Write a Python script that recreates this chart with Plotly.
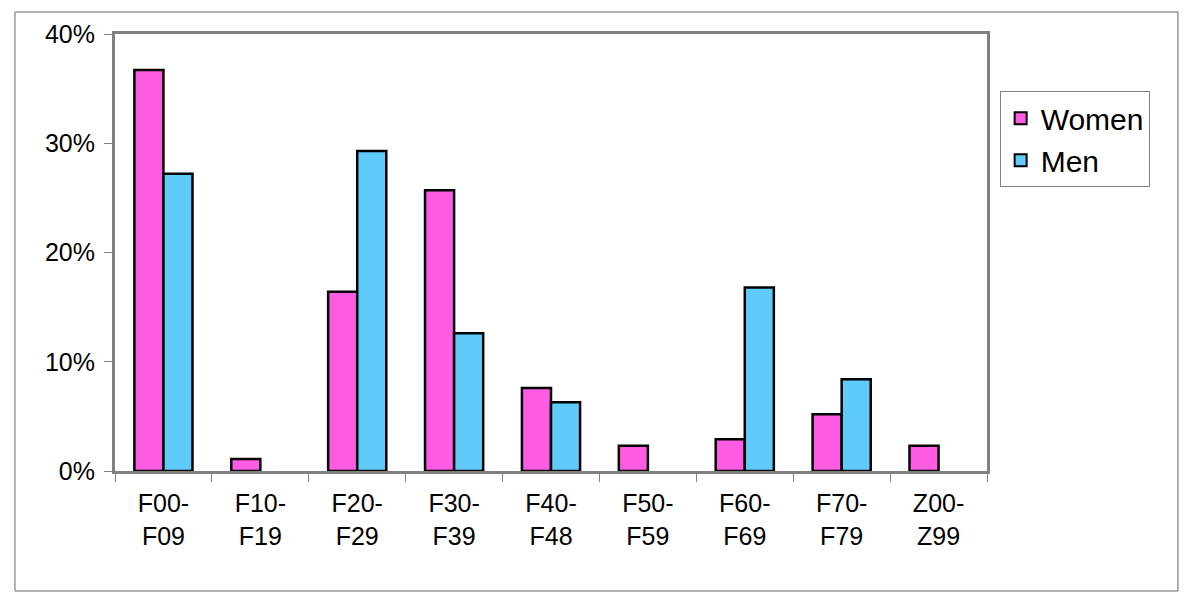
import plotly.graph_objects as go

categories = ["F00-<br>F09", "F10-<br>F19", "F20-<br>F29", "F30-<br>F39", "F40-<br>F48",
              "F50-<br>F59", "F60-<br>F69", "F70-<br>F79", "Z00-<br>Z99"]
women = [0.367, 0.011, 0.164, 0.257, 0.076, 0.023, 0.029, 0.052, 0.023]
men = [0.272, None, 0.293, 0.126, 0.063, None, 0.168, 0.084, None]
y_ticks = [0, 0.1, 0.2, 0.3, 0.4]
y_ticklabels = ["0%", "10%", "20%", "30%", "40%"]

FONT = "Liberation Sans, Arial, sans-serif"

fig = go.Figure()
fig.add_trace(go.Bar(
    name="Women", x=categories, y=women,
    marker=dict(color="#FF5BE3", line=dict(color="black", width=2.5)),
))
fig.add_trace(go.Bar(
    name="Men", x=categories, y=men,
    marker=dict(color="#5ECBFA", line=dict(color="black", width=2.5)),
))

# page body has an 8px margin, so the figure is laid out 8px left/up of target pixels
fig.update_layout(
    width=1200, height=610,
    paper_bgcolor="white", plot_bgcolor="white",
    margin=dict(l=107, r=221, t=26, b=147),
    barmode="group", bargap=0.4, bargroupgap=0,
    font=dict(family=FONT, size=25, color="black"),
    showlegend=True,
    legend=dict(
        x=1.0145, y=0.869, xanchor="left", yanchor="top",
        bordercolor="#808080", borderwidth=1, bgcolor="white",
        font=dict(size=30, family=FONT), itemsizing="constant",
        tracegroupgap=2, itemwidth=30,
    ),
    shapes=[dict(
        type="rect", xref="paper", yref="paper",
        x0=-0.1147, x1=1.219, y0=-0.2746, y1=1.0503,
        line=dict(color="#666666", width=1), fillcolor="rgba(0,0,0,0)",
        layer="below",
    )],
)

fig.update_xaxes(
    showline=True, linecolor="#808080", linewidth=3, mirror=True,
    ticks="outside", tickson="boundaries", ticklen=8, tickcolor="#808080", tickwidth=1,
    ticklabelstandoff=8,
    showgrid=False, tickfont=dict(size=25, family=FONT, color="black"),
)
fig.update_yaxes(
    range=[0, 0.4], tickvals=y_ticks, ticktext=y_ticklabels,
    showline=True, linecolor="#808080", linewidth=3, mirror=True,
    ticks="outside", ticklen=8, tickcolor="#808080", tickwidth=1,
    ticklabelstandoff=4,
    showgrid=False, zeroline=False,
    tickfont=dict(size=25, family=FONT, color="black"),
)

fig.write_html("out.html")
